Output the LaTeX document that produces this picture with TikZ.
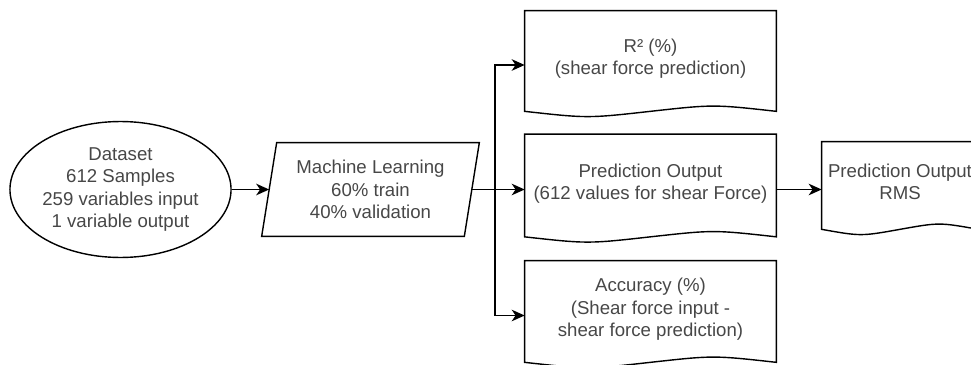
\documentclass[tikz,border=0pt]{standalone}
\usepackage{fontspec}
\setmainfont{Liberation Sans}
\usetikzlibrary{shapes.geometric, arrows.meta, calc}

\begin{document}
\begin{tikzpicture}[x=0.02cm, y=-0.02cm,
		every node/.style={font=\fontsize{10.6}{12.8}\selectfont, text=black!72, align=center},
		flowline/.style={draw=black, line width=0.8pt},
		arr/.style={flowline, -{Stealth[length=7.4pt, width=6.6pt, inset=2.2pt]}},
		docbox/.style={rectangle, inner sep=0pt, minimum height=#1, text depth=0.32cm},
	]
	\useasboundingbox (0,0) rectangle (971,365);
	\node[ellipse, flowline, minimum width=4.42cm, minimum height=2.72cm, inner sep=0pt] (ds) at (120.5,189.5) {Dataset\\612 Samples\\259 variables input\\1 variable output};
	\node[minimum width=4.04cm, minimum height=1.86cm, inner sep=0pt] (ml) at (370.5,189.5) {Machine Learning\\60\% train\\40\% validation};
	\draw[flowline] ($(ml.north west)+(7.5,0)$) -- ($(ml.north east)+(7.5,0)$) -- ($(ml.south east)+(-7.5,0)$) -- ($(ml.south west)+(-7.5,0)$) -- cycle;
	\node[docbox=2.16cm, minimum width=5.02cm] (rsq) at (650.5,65) {R² (\%)\\(shear force prediction)};
	\node[docbox=2.2cm, minimum width=5.02cm] (pred) at (650.5,189.5) {Prediction Output\\(612 values for shear Force)};
	\node[docbox=2.18cm, minimum width=5.02cm] (acc) at (650.5,315.5) {Accuracy (\%)\\(Shear force input -\\shear force prediction)};
	\node[docbox=1.9cm, minimum width=3.12cm] (rms) at (900,189.5) {Prediction Output\\RMS};
	% document outlines with wavy bottom
	\foreach \n in {rsq,pred,acc,rms}
		\draw[flowline] (\n.north west) -- (\n.north east) -- ($(\n.south east)+(0,-8)$)
			.. controls ($(\n.south)!0.5!(\n.south east)+(0,-15)$) .. ($(\n.south)+(0,-8)$)
			.. controls ($(\n.south west)!0.5!(\n.south)+(0,-1)$) .. ($(\n.south west)+(0,-8)$) -- cycle;
	\coordinate (bus) at (495,189.5);
	\draw[arr] (ds.east) -- (ml.west);
	\draw[flowline] (ml.east) -- (bus);
	\draw[arr] (bus) |- (rsq.west);
	\draw[arr] (bus) -- (pred.west);
	\draw[arr] (bus) |- (acc.west);
	\draw[arr] (pred.east) -- (rms.west);
\end{tikzpicture}
\end{document}
